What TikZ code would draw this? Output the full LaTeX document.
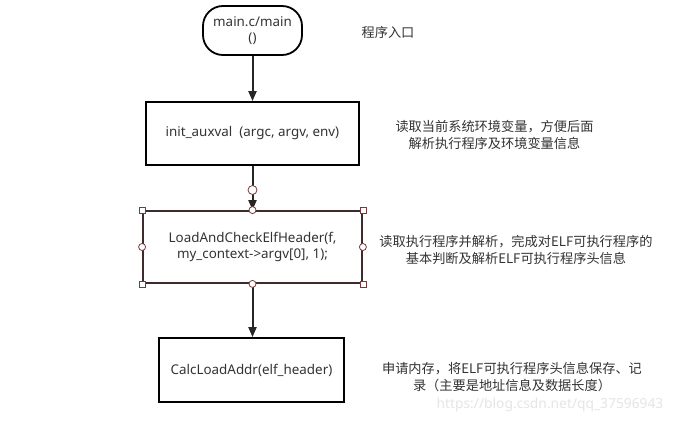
\documentclass[tikz,border=0pt]{standalone}
\usepackage{fontspec}
\setmainfont{Noto Sans}
\newfontfamily\cjk{Noto Sans CJK SC}
\usetikzlibrary{arrows.meta}
\definecolor{txt}{HTML}{333333}
\definecolor{selb}{HTML}{3E2B2B}
\definecolor{hdl}{HTML}{7A3A3A}
\tikzset{
  proc/.style={draw=black, line width=1.8pt, fill=white, align=center, font=\fontsize{13.4}{16}\selectfont, text=txt},
  term/.style={proc, rounded corners=20pt},
  flow/.style={draw=black!85, line width=2pt, -{Triangle[length=10pt,width=8pt]}},
  note/.style={align=center, font=\cjk\fontsize{13.2}{17}\selectfont, text=txt},
  sq/.style={draw=hdl, fill=white, line width=0.8pt, minimum size=6pt, inner sep=0pt},
  hc/.style={draw=hdl, fill=white, line width=0.8pt, circle, minimum size=7pt, inner sep=0pt}
}
\begin{document}
\begin{tikzpicture}[x=1pt,y=-1pt]
\useasboundingbox (0,0) rectangle (685,423);
\fill[white] (0,0) rectangle (685,423);

\node[term, minimum width=99pt, minimum height=49pt] (start) at (252.5,30.5) {main.c/main\\()};
\node[proc, minimum width=213pt, minimum height=63pt] (init) at (252.5,133.5) {init\_auxval\hspace{7pt}(argc, argv, env)};
\node[proc, draw=selb, minimum width=219pt, minimum height=72pt] (load) at (252.5,247) {LoadAndCheckElfHeader(f,\\my\_context->argv[0], 1);};
\node[proc, minimum width=185pt, minimum height=64pt] (calc) at (251.5,370) {CalcLoadAddr(elf\_header)};

\coordinate (mid) at (252.5,190);
\draw[flow] (start) -- (init);
\draw[line width=2pt, black!85] (init.south) -- (mid);
\draw[flow] (mid) -- (load.north);
\draw[flow] (load.south) -- (load.south |- calc.north);
\node[hc, minimum size=9pt] at (mid) {};

% selection handles
\foreach \a in {north west, north east, south west, south east}
  \node[sq] at (load.\a) {};
\foreach \a in {north, south, east, west}
  \node[hc] at (load.\a) {};

\node[note] (n1) at (388,32) {程序入口};
\node[note] (n2) at (494.5,134.5) {读取当前系统环境变量，方便后面\\解析执行程序及环境变量信息};
\node[note] (n3) at (516,249.5) {读取执行程序并解析，完成对ELF可执行程序的\\基本判断及解析ELF可执行程序头信息};
\node[note] (n4) at (512,377.5) {申请内存，将ELF可执行程序头信息保存、记\\录（主要是地址信息及数据长度）};
\node[font=\fontsize{13.8}{15}\selectfont, text=black!10] (wm) at (550,405) {https://blog.csdn.net/qq\_37596943};
\end{tikzpicture}
\end{document}
